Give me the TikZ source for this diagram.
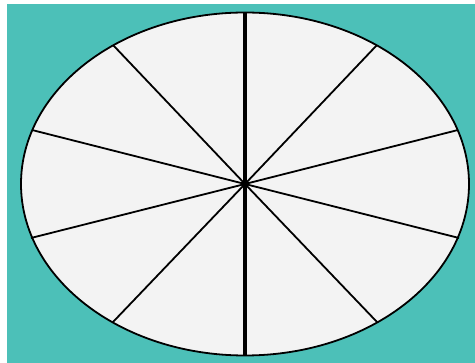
\documentclass[tikz,border=0pt]{standalone}
\definecolor{bgteal}{RGB}{76,192,184}
\definecolor{disk}{RGB}{243,243,243}
\tikzset{
  spoke/.style={black, line width=1.8pt},
  mainspoke/.style={black, line width=3.2pt},
}
\begin{document}
\begin{tikzpicture}[x=1pt,y=-1pt]
\useasboundingbox (0,0) rectangle (475,363);
\fill[white] (0,0) rectangle (475,363);
\fill[bgteal] (7,4) rectangle (475,363);
\filldraw[fill=disk, draw=black, line width=1.8pt] (245,184) ellipse [x radius=224, y radius=171.5];
\coordinate (c) at (245,184);
\coordinate (t) at (245,12.5);
\coordinate (b) at (245,355.5);
\coordinate (r1) at (377,45);
\coordinate (r2) at (458,130);
\coordinate (r3) at (459,238);
\coordinate (r4) at (377,322);
\coordinate (l1) at (113,45);
\coordinate (l2) at (32,130);
\coordinate (l3) at (31,238);
\coordinate (l4) at (113,322);
\draw[mainspoke] (t) -- (b);
\foreach \p in {r1,r2,r3,r4,l1,l2,l3,l4} \draw[spoke] (c) -- (\p);
\fill[black] (c) circle (3.8);
\end{tikzpicture}
\end{document}
